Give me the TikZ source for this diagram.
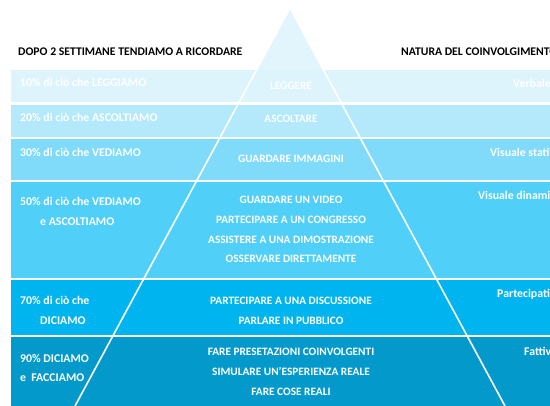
\documentclass[tikz,border=0pt]{standalone}
\usepackage{fontspec}
\setmainfont{Carlito}
\definecolor{topfill}{HTML}{E2F5FC}
\definecolor{bandA}{HTML}{DDF4FD}
\definecolor{bandB}{HTML}{B3E9FB}
\definecolor{bandC}{HTML}{80DAFA}
\definecolor{bandD}{HTML}{50CFF8}
\definecolor{bandE}{HTML}{00B5EF}
\definecolor{bandF}{HTML}{0499CB}
\tikzset{
  txt/.style={text=white,font=\bfseries\fontsize{11.8}{13}\selectfont,inner sep=0pt},
  head/.style={txt,text=black,font=\bfseries\fontsize{11.7}{13}\selectfont},
  mid/.style={txt,anchor=base,font=\bfseries\fontsize{11.3}{13}\selectfont},
  side/.style={txt,anchor=base west}
}
\begin{document}
\begin{tikzpicture}[x=1pt,y=-1pt]
		\useasboundingbox (0,0) rectangle (550,406);
		\clip (0,0) rectangle (550,406);
		% bands
		\fill[bandA] (11,70) rectangle (560,102.5);
		\fill[bandB] (11,105) rectangle (560,137);
		\fill[bandC] (11,139.5) rectangle (560,180);
		\fill[bandD] (11,182.5) rectangle (560,278);
		\fill[bandE] (11,280.5) rectangle (560,335);
		\fill[bandF] (11,337.5) rectangle (560,406);
		% pyramid
		\fill[topfill] (290,8) -- (256.5,70) -- (323.5,70) -- cycle;
		\draw[white,line width=1.6pt] (75,406) -- (290,8) -- (505,406);
		% headings
		\node[head,anchor=base west] (hleft) at (18,56) {DOPO 2 SETTIMANE TENDIAMO A RICORDARE};
		\node[head,anchor=base west] (hright) at (401,56) {NATURA DEL COINVOLGIMENTO};
		% left column
		\node[side] (l1) at (20,87) {10\% di ciò che LEGGIAMO};
		\node[side] (l2) at (20,121.5) {20\% di ciò che ASCOLTIAMO};
		\node[side] (l3) at (20,156.5) {30\% di ciò che VEDIAMO};
		\node[side] (l4a) at (20,205.5) {50\% di ciò che VEDIAMO};
		\node[side] (l4b) at (40,225.5) {e ASCOLTIAMO};
		\node[side] (l5a) at (20,304.5) {70\% di ciò che};
		\node[side] (l5b) at (40,325) {DICIAMO};
		\node[side] (l6a) at (20,363) {90\% DICIAMO};
		\node[side] (l6b) at (20,382) {e\ \ FACCIAMO};
		% middle column
		\node[mid] (m1) at (291,90) {LEGGERE};
		\node[mid] (m2) at (291,123) {ASCOLTARE};
		\node[mid] (m3) at (291,163) {GUARDARE IMMAGINI};
		\node[mid] (m4a) at (291,204) {GUARDARE UN VIDEO};
		\node[mid] (m4b) at (291,224) {PARTECIPARE A UN CONGRESSO};
		\node[mid] (m4c) at (291,243.5) {ASSISTERE A UNA DIMOSTRAZIONE};
		\node[mid] (m4d) at (291,263) {OSSERVARE DIRETTAMENTE};
		\node[mid] (m5a) at (291,305) {PARTECIPARE A UNA DISCUSSIONE};
		\node[mid] (m5b) at (291,324.5) {PARLARE IN PUBBLICO};
		\node[mid] (m6a) at (291,356) {FARE PRESETAZIONI COINVOLGENTI};
		\node[mid] (m6b) at (291,376) {SIMULARE UN'ESPERIENZA REALE};
		\node[mid] (m6c) at (291,395.5) {FARE COSE REALI};
		% right column
		\node[side] (r1) at (513,88) {Verbale};
		\node[side] (r3) at (490,157) {Visuale statica};
		\node[side] (r4) at (478,200) {Visuale dinamica};
		\node[side] (r5) at (497,298) {Partecipativa};
		\node[side] (r6) at (524,356) {Fattiva};
	    \end{tikzpicture}
\end{document}
